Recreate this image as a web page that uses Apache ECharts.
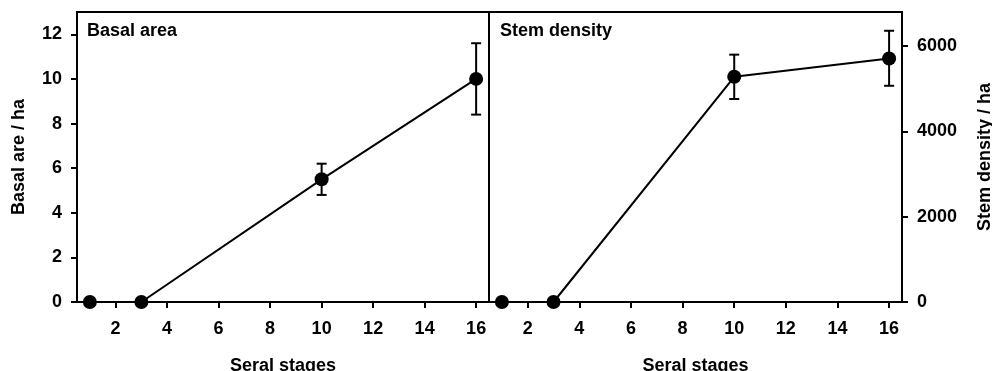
<!DOCTYPE html>
<html>
<head>
<meta charset="utf-8">
<script src="https://cdn.jsdelivr.net/npm/echarts@6/dist/echarts.min.js"></script>
<style>
  html, body { margin: 0; padding: 0; background: #fff; }
  #chart { width: 992px; height: 371px; }
</style>
</head>
<body>
<div id="chart"></div>
<script>
const stages = [1, 3, 10, 16]
const basalArea = [0, 0, 5.5, 10]
const basalLow = [0, 0, 4.8, 8.4]
const basalHigh = [0, 0, 6.2, 11.6]
const stemDensity = [0, 0, 5280, 5710]
const stemLow = [0, 0, 4760, 5070]
const stemHigh = [0, 0, 5800, 6360]
const xTicks = [2, 4, 6, 8, 10, 12, 14, 16]
const basalTicks = [0, 2, 4, 6, 8, 10, 12]
const stemTicks = [0, 2000, 4000, 6000]

const font = "Liberation Sans, Arial, sans-serif"
const black = "#000"

const xAxisBase = (gridIndex) => ({
  type: "value",
  gridIndex: gridIndex,
  min: 0.5,
  max: 16.5,
  name: "Seral stages",
  nameLocation: "middle",
  nameGap: 55,
  nameTextStyle: { fontFamily: font, fontWeight: "bold", fontSize: 18, color: black },
  axisLine: { show: true, onZero: false, lineStyle: { color: black, width: 2 } },
  axisTick: { show: true, length: 6, customValues: xTicks, lineStyle: { color: black, width: 2 } },
  axisLabel: { customValues: xTicks, margin: 18, fontFamily: font, fontWeight: "bold", fontSize: 18, color: black },
  splitLine: { show: false },
})

const errorBars = (lo, hi, axisIdx) => ({
  type: "custom",
  xAxisIndex: axisIdx,
  yAxisIndex: axisIdx,
  z: 1,
  silent: true,
  data: stages.map((s, i) => [s, lo[i], hi[i]]),
  renderItem: (params, api) => {
    const x = api.value(0)
    const p1 = api.coord([x, api.value(1)])
    const p2 = api.coord([x, api.value(2)])
    const w = 5
    const style = { stroke: black, lineWidth: 2 }
    return {
      type: "group",
      children: [
        { type: "line", shape: { x1: p1[0], y1: p1[1], x2: p2[0], y2: p2[1] }, style: style },
        { type: "line", shape: { x1: p1[0] - w, y1: p1[1], x2: p1[0] + w, y2: p1[1] }, style: style },
        { type: "line", shape: { x1: p2[0] - w, y1: p2[1], x2: p2[0] + w, y2: p2[1] }, style: style },
      ],
    }
  },
})

const lineSeries = (values, axisIdx) => ({
  type: "line",
  xAxisIndex: axisIdx,
  yAxisIndex: axisIdx,
  z: 3,
  data: stages.map((s, i) => [s, values[i]]),
  symbol: "circle",
  symbolSize: 14,
  showSymbol: true,
  clip: false,
  itemStyle: { color: black },
  lineStyle: { color: black, width: 2 },
})

const chart = echarts.init(document.getElementById("chart"))
const option = {
  animation: false,
  backgroundColor: "#fff",
  title: [
    { text: "Basal area", left: 82, top: 17, textStyle: { fontFamily: font, fontWeight: "bold", fontSize: 18, color: black } },
    { text: "Stem density", left: 495, top: 17, textStyle: { fontFamily: font, fontWeight: "bold", fontSize: 18, color: black } },
  ],
  grid: [
    { left: 77, right: 503, top: 12, bottom: 69, outerBoundsMode: "none", containLabel: false, show: true, borderColor: black, borderWidth: 2, backgroundColor: "transparent" },
    { left: 489, right: 90, top: 12, bottom: 69, outerBoundsMode: "none", containLabel: false, show: true, borderColor: black, borderWidth: 2, backgroundColor: "transparent" },
  ],
  xAxis: [xAxisBase(0), xAxisBase(1)],
  yAxis: [
    {
      type: "value",
      gridIndex: 0,
      min: 0,
      max: 13,
      position: "left",
      name: "Basal are / ha",
      nameLocation: "middle",
      nameRotate: 90,
      nameGap: 49,
      nameTextStyle: { fontFamily: font, fontWeight: "bold", fontSize: 18, color: black },
      axisLine: { show: true, lineStyle: { color: black, width: 2 } },
      axisTick: { show: true, length: 6, customValues: basalTicks, lineStyle: { color: black, width: 2 } },
      axisLabel: { customValues: basalTicks, margin: 15, fontFamily: font, fontWeight: "bold", fontSize: 18, color: black },
      splitLine: { show: false },
    },
    {
      type: "value",
      gridIndex: 1,
      min: 0,
      max: 6800,
      position: "right",
      name: "Stem density / ha",
      nameLocation: "middle",
      nameRotate: 90,
      nameGap: 74,
      nameTextStyle: { fontFamily: font, fontWeight: "bold", fontSize: 18, color: black },
      axisLine: { show: true, lineStyle: { color: black, width: 2 } },
      axisTick: { show: true, length: 6, customValues: stemTicks, lineStyle: { color: black, width: 2 } },
      axisLabel: { customValues: stemTicks, margin: 15, formatter: (v) => String(v), fontFamily: font, fontWeight: "bold", fontSize: 18, color: black },
      splitLine: { show: false },
    },
  ],
  series: [
    errorBars(basalLow, basalHigh, 0),
    lineSeries(basalArea, 0),
    errorBars(stemLow, stemHigh, 1),
    lineSeries(stemDensity, 1),
  ],
}
chart.setOption(option)
</script>
</body>
</html>
